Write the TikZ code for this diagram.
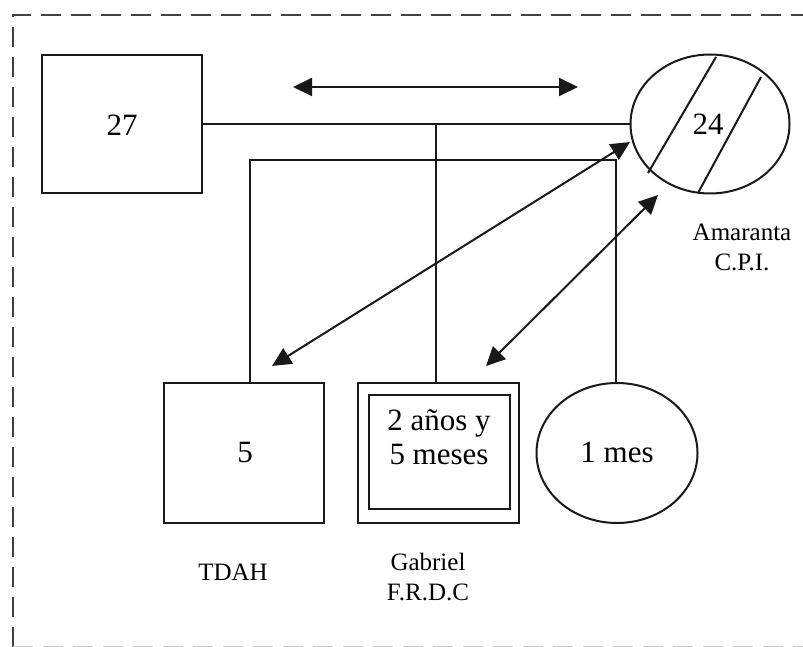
\documentclass[tikz,border=0pt]{standalone}
\usepackage{fontspec}
\setmainfont{Liberation Serif}
\usetikzlibrary{arrows.meta,shapes.geometric}
\begin{document}
\begin{tikzpicture}[x=1pt,y=-1pt,
  ln/.style={line width=2pt,black!90},
  big/.style={font=\fontsize{31}{34}\selectfont},
  lab/.style={font=\fontsize{25}{30}\selectfont,align=center},
  sqbox/.style={ln,draw,rectangle,inner sep=0pt},
  ell/.style={ln,draw,ellipse,inner sep=0pt},
  dbl/.style={ln,{Triangle[length=19pt,width=18pt]}-{Triangle[length=19pt,width=18pt]}},
  frame/.style={line width=2.4pt,draw=black!75,dash pattern=on 20pt off 10pt}]
\useasboundingbox (0,0) rectangle (803,647);
\clip (0,0) rectangle (803,647);
% frame
\draw[frame] (13,647) -- (13,15) -- (815,15);
\draw[frame,draw=black!20] (13,647.5) -- (815,647.5);
% nodes
\node[sqbox,minimum width=160pt,minimum height=138pt] (b27) at (122,124) {};
\node[big] (t27) at (122,125) {27};
\node[ell,minimum width=159pt,minimum height=139pt] (c24) at (710,124) {};
\node[big] (t24) at (708,124) {24};
\node[sqbox,minimum width=160pt,minimum height=140pt] (b5) at (244,453) {};
\node[big] (t5) at (245,452) {5};
\node[sqbox,minimum width=161pt,minimum height=140pt] (gab) at (438.5,453) {};
\node[sqbox,minimum width=141pt,minimum height=114pt] (gabin) at (439.5,452) {};
\node[big,align=center] (tgab) at (439,437) {2 años y\\5 meses};
\node[ell,minimum width=161pt,minimum height=140pt] (mes) at (617,453) {};
\node[big] (tmes) at (617,452) {1 mes};
% labels
\node[lab] (ltdah) at (233,572) {TDAH};
\node[lab] (lgab) at (428,577) {Gabriel\\F.R.D.C};
\node[lab] (lam) at (742,247) {Amaranta\\C.P.I.};
% slashes through 24
\coordinate (s1a) at (716,57); \coordinate (s1b) at (648,173);
\coordinate (s2a) at (761,77); \coordinate (s2b) at (698,193);
\draw[ln] (s1a) -- (s1b);
\draw[ln] (s2a) -- (s2b);
% marriage line
\draw[ln] (b27.east) -- (c24.west);
\draw[ln] (gab.north -| 436,0) -- (436,124);
% sibling line
\coordinate (sl) at (250,160);
\coordinate (sr) at (616,160);
\draw[ln] (b5.north -| sl) -- (sl) -- (sr) -- (mes.north -| sr);
% arrows
\coordinate (ta) at (293,87); \coordinate (tb) at (578,87);
\draw[dbl] (ta) -- (tb);
\coordinate (a1) at (630,142); \coordinate (a2) at (272,366);
\draw[dbl] (a1) -- (a2);
\coordinate (b1) at (658,195); \coordinate (b2) at (486,366);
\draw[dbl] (b1) -- (b2);
\end{tikzpicture}
\end{document}
